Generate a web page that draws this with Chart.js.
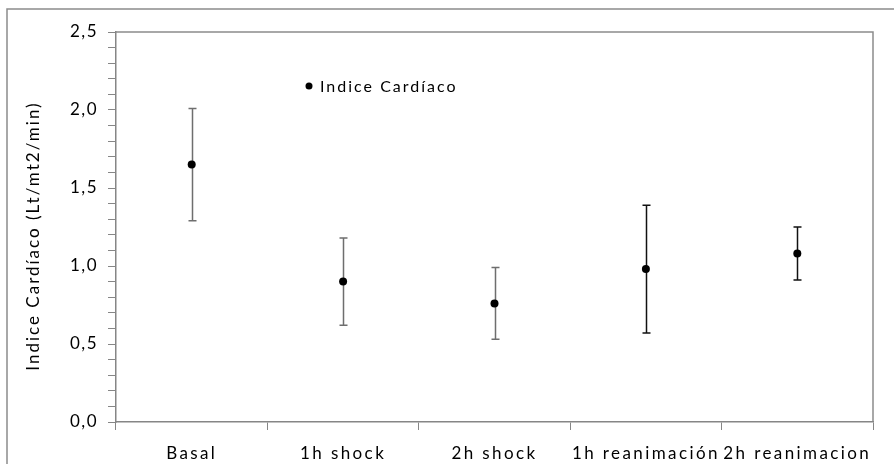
<!DOCTYPE html>
<html>
<head>
<meta charset="utf-8">
<script src="https://cdn.jsdelivr.net/npm/chart.js@4/dist/chart.umd.min.js"></script>
<style>
  html, body { margin: 0; padding: 0; background: #fff; }
  #wrap { width: 894px; height: 464px; }
</style>
</head>
<body>
<div id="wrap"><canvas id="chart" width="894" height="464"></canvas></div>
<script>
// Cardiac index by stage (mean with error range)
const categories = ['Basal', '1h shock', '2h shock', '1h reanimación', '2h reanimacion'];
const indiceCardiaco = [1.65, 0.90, 0.76, 0.98, 1.08];
const errorLow = [1.29, 0.62, 0.53, 0.57, 0.91];
const errorHigh = [2.01, 1.18, 0.99, 1.39, 1.25];
const yTickLabels = ['0,0', '0,5', '1,0', '1,5', '2,0', '2,5'];

const seriesName = 'Indice Cardíaco';
const axisTitle = 'Indice Cardíaco (Lt/mt2/min)';

const GRAY = '#868686';
const errorColors = ['#6e6e6e', '#6e6e6e', '#6e6e6e', '#111', '#111'];

// scales whose text is drawn with a little tracking
class SpacedCategoryScale extends Chart.CategoryScale {
  static id = 'spacedCategory';
  drawLabels(area) {
    const ctx = this.ctx;
    ctx.save();
    ctx.letterSpacing = '2.4px';
    super.drawLabels(area);
    ctx.restore();
  }
}
class SpacedLinearScale extends Chart.LinearScale {
  static id = 'spacedLinear';
  drawLabels(area) {
    const ctx = this.ctx;
    ctx.save();
    ctx.letterSpacing = '1.5px';
    super.drawLabels(area);
    ctx.restore();
  }
  drawTitle() {
    const ctx = this.ctx;
    ctx.save();
    ctx.letterSpacing = '2px';
    ctx.translate(0, 9);
    super.drawTitle();
    ctx.restore();
  }
}
Chart.register(SpacedCategoryScale, SpacedLinearScale);

// white background, outer frame and plot-area box
const framePlugin = {
  id: 'frame',
  beforeDraw(chart) {
    const { ctx, chartArea: a } = chart;
    ctx.save();
    ctx.fillStyle = '#fff';
    ctx.fillRect(0, 0, chart.width, chart.height);
    ctx.strokeStyle = '#8c8c8c';
    ctx.lineWidth = 1.5;
    ctx.strokeRect(7, 9, chart.width + 20, chart.height + 20);
    ctx.beginPath();
    ctx.moveTo(a.left, a.top);
    ctx.lineTo(a.right, a.top);
    ctx.lineTo(a.right, a.bottom);
    ctx.stroke();
    ctx.restore();
  }
};

// vertical error bars with caps, placed through the chart scales
const errorBarPlugin = {
  id: 'errorBars',
  beforeDatasetsDraw(chart) {
    const { ctx, scales: { x, y } } = chart;
    ctx.save();
    ctx.lineWidth = 1.5;
    categories.forEach((c, i) => {
      const px = Math.round(x.getPixelForValue(i)) + 0.5;
      const top = y.getPixelForValue(errorHigh[i]);
      const bot = y.getPixelForValue(errorLow[i]);
      ctx.strokeStyle = errorColors[i];
      ctx.beginPath();
      ctx.moveTo(px, top); ctx.lineTo(px, bot);
      ctx.moveTo(px - 4, top); ctx.lineTo(px + 4, top);
      ctx.moveTo(px - 4, bot); ctx.lineTo(px + 4, bot);
      ctx.stroke();
    });
    ctx.restore();
  }
};

// series key drawn inside the plot area
const keyPlugin = {
  id: 'seriesKey',
  afterDatasetsDraw(chart) {
    const { ctx, chartArea: a } = chart;
    const kx = a.left + 193, ky = a.top + 54;
    ctx.save();
    ctx.fillStyle = '#000';
    ctx.beginPath();
    ctx.arc(kx, ky, 3.5, 0, Math.PI * 2);
    ctx.fill();
    ctx.font = '16px Lato';
    ctx.letterSpacing = '2px';
    ctx.textBaseline = 'middle';
    ctx.textAlign = 'left';
    ctx.fillText(chart.data.datasets[0].label, kx + 11, ky + 1);
    ctx.restore();
  }
};

new Chart(document.getElementById('chart'), {
  type: 'line',
  data: {
    labels: categories,
    datasets: [{
      label: seriesName,
      data: indiceCardiaco,
      showLine: false,
      pointRadius: 4,
      pointHoverRadius: 4,
      pointBackgroundColor: '#000',
      pointBorderColor: '#000',
      pointBorderWidth: 0
    }]
  },
  options: {
    responsive: false,
    animation: false,
    events: [],
    layout: { padding: { top: 32, right: 21, bottom: 0, left: 0 } },
    plugins: {
      legend: { display: false },
      tooltip: { enabled: false }
    },
    scales: {
      x: {
        type: 'spacedCategory',
        offset: true,
        grid: { offset: true, drawOnChartArea: false, tickLength: 8, tickColor: GRAY, tickWidth: 1 },
        border: { color: GRAY, width: 1.5 },
        ticks: { color: '#000', font: { family: 'Lato', size: 17 }, padding: 13, maxRotation: 0, autoSkip: false },
        afterFit(s) { s.height = 42; }
      },
      y: {
        type: 'spacedLinear',
        min: 0,
        max: 2.5,
        grid: { drawOnChartArea: false, tickLength: 8, tickColor: GRAY, tickWidth: 1 },
        border: { color: GRAY, width: 1.5 },
        ticks: {
          stepSize: 0.1,
          autoSkip: false,
          color: '#000',
          font: { family: 'Lato', size: 17 },
          padding: 10,
          callback(v) {
            const k = Math.round(v * 2);
            return Math.abs(v * 2 - k) < 1e-6 ? yTickLabels[k] : '';
          }
        },
        title: {
          display: true,
          text: axisTitle,
          color: '#000',
          font: { family: 'Lato', size: 17 },
          padding: { top: 23, bottom: 0 }
        },
        afterFit(s) { s.width = 116; }
      }
    }
  },
  plugins: [framePlugin, errorBarPlugin, keyPlugin]
});
</script>
</body>
</html>
